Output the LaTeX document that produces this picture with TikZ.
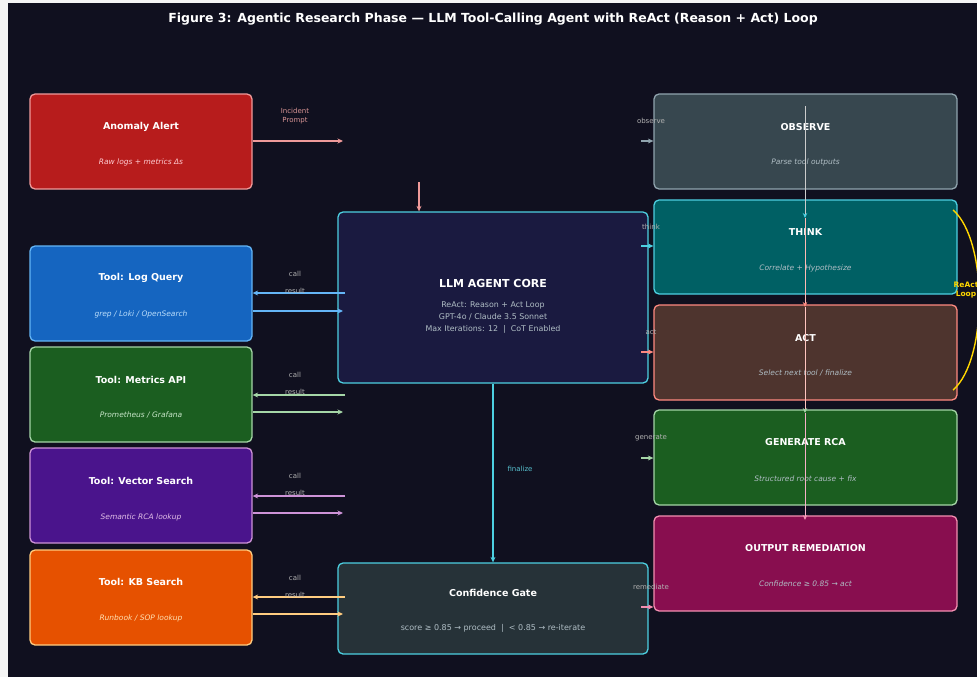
\documentclass[tikz,border=0pt]{standalone}
\usepackage{fontspec}
\setmainfont{DejaVu Sans}
\usetikzlibrary{arrows.meta}
\definecolor{bgc}{HTML}{10101F}
\definecolor{alertF}{HTML}{B71C1C}\definecolor{alertB}{HTML}{EF9A9A}\definecolor{alertT}{HTML}{FFCDD2}
\definecolor{logF}{HTML}{1565C0}\definecolor{logB}{HTML}{64B5F6}\definecolor{logT}{HTML}{BBDEFB}
\definecolor{metF}{HTML}{1B5E20}\definecolor{metB}{HTML}{A5D6A7}\definecolor{metT}{HTML}{C8E6C9}
\definecolor{vecF}{HTML}{4A148C}\definecolor{vecB}{HTML}{CE93D8}\definecolor{vecT}{HTML}{E1BEE7}
\definecolor{kbF}{HTML}{E65100}\definecolor{kbB}{HTML}{FFCC80}\definecolor{kbT}{HTML}{FFE0B2}
\definecolor{coreF}{HTML}{1A1A40}\definecolor{cyanB}{HTML}{4DD0E1}
\definecolor{gateF}{HTML}{263238}
\definecolor{obsF}{HTML}{37474F}\definecolor{obsB}{HTML}{90A4AE}
\definecolor{thinkF}{HTML}{006064}
\definecolor{actF}{HTML}{4E342E}\definecolor{actB}{HTML}{FF8A80}
\definecolor{outF}{HTML}{880E4F}\definecolor{outB}{HTML}{F48FB1}
\definecolor{bodyT}{HTML}{B0BEC5}
\definecolor{loopY}{HTML}{FFD600}
\tikzset{
  card/.style={rounded corners=5pt, line width=1.3pt, inner sep=0pt},
  ttl/.style={font=\bfseries\fontsize{9.5}{11}\selectfont, text=white},
  sub/.style={font=\itshape\fontsize{7.5}{9}\selectfont},
  lbl/.style={font=\fontsize{7}{8.5}\selectfont, text=gray!60, align=center},
  arr/.style={line width=1.3pt, -{Stealth[length=5.5pt,width=5pt]}},
}
\begin{document}
\begin{tikzpicture}[x=1pt,y=-1pt]
\fill[white!92!gray] (0,0) rectangle (977,677);
\fill[bgc] (8,3) rectangle (977,677);
\useasboundingbox (0,0) rectangle (977,677);
\begin{scope}
\clip (0,0) rectangle (977,677);
% title
\node[font=\bfseries\fontsize{12.5}{14}\selectfont, text=white] (title) at (493,19)
  {Figure 3: Agentic Research Phase — LLM Tool-Calling Agent with ReAct (Reason + Act) Loop};

% left column
\node[card, draw=alertB, fill=alertF, minimum width=222pt, minimum height=95pt] (alert) at (141,141.5) {};
\node[ttl] at (141,127) {Anomaly Alert};
\node[sub, text=alertT] at (141,162) {Raw logs + metrics Δs};

\node[card, draw=logB, fill=logF, minimum width=222pt, minimum height=95pt] (logq) at (141,293.5) {};
\node[ttl] at (141,278) {Tool: Log Query};
\node[sub, text=logT] at (141,314) {grep / Loki / OpenSearch};

\node[card, draw=metB, fill=metF, minimum width=222pt, minimum height=95pt] (metr) at (141,394.5) {};
\node[ttl] at (141,380) {Tool: Metrics API};
\node[sub, text=metT] at (141,415) {Prometheus / Grafana};

\node[card, draw=vecB, fill=vecF, minimum width=222pt, minimum height=95pt] (vect) at (141,495.5) {};
\node[ttl] at (141,481) {Tool: Vector Search};
\node[sub, text=vecT] at (141,517) {Semantic RCA lookup};

\node[card, draw=kbB, fill=kbF, minimum width=222pt, minimum height=95pt] (kb) at (141,597.5) {};
\node[ttl] at (141,582) {Tool: KB Search};
\node[sub, text=kbT] at (141,618) {Runbook / SOP lookup};

% centre
\node[card, draw=cyanB, fill=coreF, minimum width=310pt, minimum height=171pt] (core) at (493,297.5) {};
\node[font=\bfseries\fontsize{11}{13}\selectfont, text=white] at (493,283) {LLM AGENT CORE};
\node[font=\fontsize{7.9}{12}\selectfont, text=bodyT, align=center] at (493,318)
  {ReAct: Reason + Act Loop\\GPT-4o / Claude 3.5 Sonnet\\Max Iterations: 12 \ \textbar\ \ CoT Enabled};

\node[card, draw=cyanB, fill=gateF, minimum width=310pt, minimum height=91pt] (gate) at (493,608.5) {};
\node[ttl] at (493,593) {Confidence Gate};
\node[font=\fontsize{8}{9}\selectfont, text=bodyT] at (493,628)
  {score ≥ 0.85 → proceed \ \textbar\ \ < 0.85 → re-iterate};

% right column
\node[card, draw=obsB, fill=obsF, minimum width=303pt, minimum height=95pt] (obs) at (805.5,141.5) {};
\node[ttl] at (805.5,127) {OBSERVE};
\node[sub, text=bodyT] at (805.5,162) {Parse tool outputs};

\node[card, draw=cyanB, fill=thinkF, minimum width=303pt, minimum height=94pt] (think) at (805.5,247) {};
\node[ttl] at (805.5,232) {THINK};
\node[sub, text=bodyT] at (805.5,268) {Correlate + Hypothesize};

\node[card, draw=actB, fill=actF, minimum width=303pt, minimum height=95pt] (act) at (805.5,352.5) {};
\node[ttl] at (805.5,338) {ACT};
\node[sub, text=bodyT] at (805.5,373) {Select next tool / finalize};

\node[card, draw=metB, fill=metF, minimum width=303pt, minimum height=95pt] (gen) at (805.5,457.5) {};
\node[ttl] at (805.5,442) {GENERATE RCA};
\node[sub, text=bodyT] at (805.5,479) {Structured root cause + fix};

\node[card, draw=outB, fill=outF, minimum width=303pt, minimum height=95pt] (out) at (805.5,563.5) {};
\node[ttl] at (805.5,548) {OUTPUT REMEDIATION};
\node[sub, text=bodyT] at (805.5,584) {Confidence ≥ 0.85 → act};

% alert -> core
\coordinate (alertend) at (343,141);
\draw[arr, draw=alertB] (alert.east |- alertend) -- (alertend);
\node[lbl, text=alertB!80!gray] at (295,116) {Incident\\Prompt};
\coordinate (promptin) at (419,182);
\draw[arr, draw=alertB] (promptin) -- (promptin |- core.north);

% tool call / result arrows
\coordinate (lq1) at (345,293); \coordinate (lq2) at (343,311);
\draw[arr, draw=logB] (lq1) -- (lq1 -| logq.east);
\draw[arr, draw=logB] (lq2 -| logq.east) -- (lq2);
\node[lbl] at (295,274) {call};
\node[lbl] at (295,291) {result};

\coordinate (mt1) at (345,395); \coordinate (mt2) at (343,412);
\draw[arr, draw=metB] (mt1) -- (mt1 -| metr.east);
\draw[arr, draw=metB] (mt2 -| metr.east) -- (mt2);
\node[lbl] at (295,375) {call};
\node[lbl] at (295,392) {result};

\coordinate (vc1) at (345,496); \coordinate (vc2) at (343,513);
\draw[arr, draw=vecB] (vc1) -- (vc1 -| vect.east);
\draw[arr, draw=vecB] (vc2 -| vect.east) -- (vc2);
\node[lbl] at (295,476) {call};
\node[lbl] at (295,493) {result};

\coordinate (kb1) at (345,597); \coordinate (kb2) at (343,614);
\draw[arr, draw=kbB] (kb1) -- (kb1 -| kb.east);
\draw[arr, draw=kbB] (kb2 -| kb.east) -- (kb2);
\node[lbl] at (295,578) {call};
\node[lbl] at (295,595) {result};

% finalize
\draw[arr, draw=cyanB] (core.south) -- (gate.north);
\node[lbl, text=cyanB!80!gray] at (520,469) {finalize};

% side arrows into right column
\coordinate (so) at (641,141); \draw[arr, draw=obsB] (so) -- (so -| obs.west);
\node[lbl] at (651,121) {observe};
\coordinate (st) at (641,246); \draw[arr, draw=cyanB] (st) -- (st -| think.west);
\node[lbl] at (651,227) {think};
\coordinate (sa) at (641,352); \draw[arr, draw=actB] (sa) -- (sa -| act.west);
\node[lbl] at (651,332) {act};
\coordinate (sg) at (641,458); \draw[arr, draw=metB] (sg) -- (sg -| gen.west);
\node[lbl] at (651,438) {generate};
\coordinate (sr) at (641,607); \draw[arr, draw=outB] (sr) -- (sr -| out.west);
\node[lbl] at (651,587) {remediate};

% vertical chain
\coordinate (c0) at (805,106); \coordinate (c1) at (805,218);
\coordinate (c2) at (805,307); \coordinate (c3) at (805,413); \coordinate (c4) at (805,520);
\draw[line width=1pt, draw=gray!40, -{Stealth[length=5pt,width=4.5pt,color=cyanB]}] (c0) -- (c1);
\draw[line width=1pt, draw=actB!60!white, -{Stealth[length=5pt,width=4.5pt,color=actB]}] (c1) -- (c2);
\draw[line width=1pt, draw=actB!50!white, -{Stealth[length=5pt,width=4.5pt,color=metB]}] (c2) -- (c3);
\draw[line width=1pt, draw=outB!70!white, -{Stealth[length=5pt,width=4.5pt,color=outB]}] (c3) -- (c4);

% ReAct loop
\coordinate (l0) at (953,210); \coordinate (l1) at (953,390);
\draw[loopY, line width=1.4pt] (l0) .. controls (988,240) and (988,360) .. (l1);
\node[font=\bfseries\fontsize{7.5}{9}\selectfont, text=loopY, align=center] (loop) at (966,290) {ReAct\\Loop};
\end{scope}
\end{tikzpicture}
\end{document}
